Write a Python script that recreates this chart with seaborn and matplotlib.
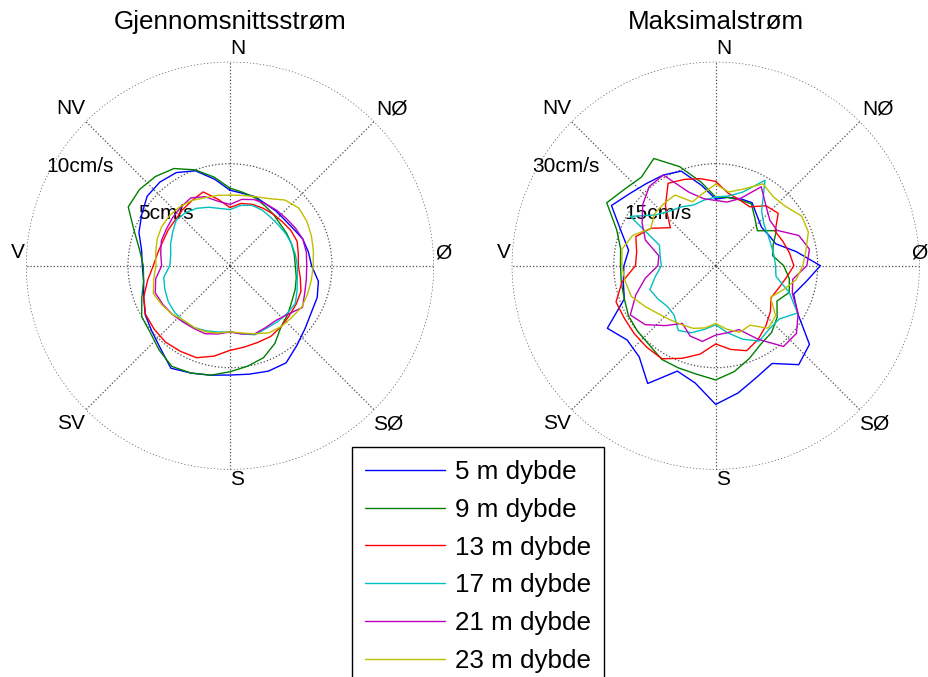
import numpy as np
import pandas as pd
import matplotlib
matplotlib.use("Agg")
import matplotlib.pyplot as plt
from matplotlib.lines import Line2D
import seaborn as sns

sns.set_style("white")
plt.rcParams['font.family'] = ['Liberation Sans', 'DejaVu Sans']
plt.rcParams['text.color'] = 'black'

# ---------------- data ----------------
directions_deg = list(range(0, 360, 10))
depth_labels = ["5 m dybde", "9 m dybde", "13 m dybde", "17 m dybde", "21 m dybde", "23 m dybde"]
compass_labels = ["N", "NØ", "Ø", "SØ", "S", "SV", "V", "NV"]

# Mean current (cm/s)
mean_5m = [3.7, 3.6, 3.6, 3.5, 3.5, 3.5, 3.6, 3.8, 3.9, 4.0, 4.4, 4.55, 4.6, 4.8, 5.1, 5.5, 5.5, 5.4,
           5.36, 5.45, 5.6, 5.8, 5.3, 5.0, 4.8, 4.5, 4.3, 4.3, 4.4, 4.75, 5.0, 5.3, 5.35, 5.27, 4.95, 4.3]
mean_9m = [3.8, 3.65, 3.55, 3.4, 3.3, 3.2, 3.2, 3.2, 3.2, 3.2, 3.3, 3.4, 3.5, 3.7, 3.9, 4.4, 4.8, 5.0,
           5.2, 5.45, 5.6, 5.7, 5.4, 5.1, 5.0, 4.6, 4.3, 4.25, 4.5, 5.0, 5.76, 5.8, 5.7, 5.5, 5.0, 4.4]
mean_13m = [2.85, 3.1, 3.2, 3.25, 3.3, 3.35, 3.45, 3.5, 3.4, 3.35, 3.5, 3.7, 3.75, 3.8, 3.9, 4.0, 4.0, 4.05,
            4.15, 4.5, 4.8, 4.85, 4.9, 4.85, 4.78, 4.5, 4.1, 3.76, 3.6, 3.5, 3.5, 3.5, 3.6, 3.7, 3.85, 3.3]
mean_17m = [2.75, 3.0, 3.15, 3.15, 3.1, 3.1, 3.15, 3.2, 3.25, 3.3, 3.35, 3.5, 3.7, 3.65, 3.6, 3.55, 3.6, 3.4,
            3.24, 3.3, 3.4, 3.5, 3.55, 3.55, 3.5, 3.4, 3.3, 2.95, 2.95, 3.1, 3.25, 3.45, 3.4, 3.25, 3.05, 2.85]
mean_21m = [3.0, 3.3, 3.45, 3.5, 3.55, 3.6, 3.7, 3.8, 3.8, 3.76, 3.8, 3.9, 4.1, 3.7, 3.5, 3.5, 3.55, 3.4,
            3.25, 3.4, 3.55, 3.55, 3.6, 3.7, 3.8, 3.9, 3.7, 3.35, 3.45, 3.58, 3.6, 3.67, 3.75, 3.84, 3.6, 3.2]
mean_23m = [3.46, 3.5, 3.6, 3.8, 4.2, 4.4, 4.35, 4.25, 4.15, 4.08, 4.05, 4.05, 4.06, 3.95, 3.9, 3.8, 3.55, 3.35,
            3.24, 3.35, 3.45, 3.5, 3.5, 3.7, 3.85, 4.0, 3.8, 3.63, 3.7, 3.8, 3.86, 3.85, 3.79, 3.7, 3.55, 3.5]

# Maximum current (cm/s)
max_5m = [9.8, 10.2, 10.5, 10.7, 9.5, 8.8, 9.0, 9.4, 12.0, 15.4, 13.5, 12.2, 13.9, 18.0, 19.0, 16.6, 17.5, 19.0,
          20.4, 17.5, 16.5, 20.0, 17.5, 17.0, 18.4, 14.3, 13.8, 13.5, 13.0, 14.8, 17.7, 16.5, 15.8, 15.4, 14.8, 12.0]
max_9m = [10.1, 10.2, 10.3, 10.5, 9.0, 8.0, 10.3, 9.0, 8.5, 10.0, 11.0, 11.5, 10.4, 11.8, 12.8, 13.3, 14.5, 15.8,
          16.8, 16.2, 16.0, 15.9, 15.2, 15.0, 14.8, 14.3, 14.1, 14.0, 14.2, 15.5, 18.5, 17.5, 17.0, 18.2, 15.5, 12.5]
max_13m = [12.4, 10.8, 10.3, 10.0, 11.5, 12.0, 10.1, 10.5, 11.0, 11.5, 10.5, 9.8, 9.4, 10.5, 11.5, 12.5, 13.3, 12.5,
           11.5, 13.2, 14.5, 15.8, 15.7, 15.6, 15.5, 15.6, 14.0, 11.8, 11.8, 12.5, 11.0, 8.7, 11.5, 14.0, 13.5, 13.0]
max_17m = [10.1, 10.4, 11.5, 14.5, 10.5, 9.3, 8.9, 8.7, 8.7, 8.8, 9.0, 11.5, 13.9, 12.2, 12.2, 12.8, 11.5, 10.0,
           8.7, 9.5, 10.5, 11.0, 9.5, 9.3, 9.8, 10.3, 9.0, 8.0, 8.3, 8.8, 14.5, 11.6, 10.5, 10.0, 9.5, 9.8]
max_21m = [9.6, 9.5, 10.5, 13.4, 11.5, 10.4, 10.4, 13.0, 14.0, 13.4, 11.5, 12.0, 14.0, 15.5, 15.5, 12.5, 10.0, 10.0,
           10.2, 11.3, 11.0, 9.8, 11.5, 13.5, 14.5, 12.5, 10.5, 8.5, 8.5, 11.0, 12.5, 14.0, 15.2, 15.4, 11.5, 10.0]
max_23m = [12.0, 11.0, 12.0, 13.9, 13.2, 13.5, 14.6, 14.5, 13.5, 12.8, 12.0, 10.5, 9.3, 11.5, 12.0, 10.1, 10.4, 9.5,
           8.5, 9.3, 9.8, 10.0, 10.4, 11.0, 12.0, 13.2, 13.5, 13.8, 14.0, 13.0, 11.0, 11.8, 11.9, 12.0, 10.0, 10.8]

mean_series = [mean_5m, mean_9m, mean_13m, mean_17m, mean_21m, mean_23m]
max_series = [max_5m, max_9m, max_13m, max_17m, max_21m, max_23m]

colors = ["#0000ff", "#008000", "#ff0000", "#00bfbf", "#bf00bf", "#bfbf00"]
palette = dict(zip(depth_labels, colors))


def make_frame(series_list):
    rows = []
    for lab, vals in zip(depth_labels, series_list):
        th = list(np.deg2rad(directions_deg)) + [np.deg2rad(360.0)]
        rv = list(vals) + [vals[0]]
        for i, (t, r) in enumerate(zip(th, rv)):
            rows.append({"theta": t, "r": r, "depth": lab, "order": i})
    return pd.DataFrame(rows)


# ---------------- figure ----------------
W, H = 929, 677
fig = plt.figure(figsize=(W / 100, H / 100), dpi=100)
R = 204.0
cy = 265.7


def setup(cx, rmax, title, east_dx):
    ax = fig.add_axes([(cx - R) / W, (H - cy - R) / H, 2 * R / W, 2 * R / H], projection='polar')
    ax.set_theta_zero_location('N')
    ax.set_theta_direction(-1)
    ax.set_ylim(0, rmax)
    ax.set_yticks([rmax / 2, rmax])
    ax.set_yticklabels([])
    ax.set_xticks(np.deg2rad(np.arange(0, 360, 45)))
    ax.set_xticklabels([])
    ax.grid(True, linestyle=':', color='0.3', linewidth=0.9)
    ax.spines['polar'].set_visible(False)
    ax.tick_params(length=0)
    offsets = [(8, 217), (162, 157), (east_dx, 13), (158, -158), (7, -214), (-159, -158), (-212, 13), (-159, 157)]
    for name, (dx, up) in zip(compass_labels, offsets):
        ax.text(0.5 + dx / (2 * R), 0.5 + up / (2 * R), name, transform=ax.transAxes,
                ha='center', va='center', fontsize=15, color='black', clip_on=False)
    for ring in (rmax / 2, rmax):
        ax.text(np.deg2rad(297), ring * 1.01, f"{ring:g}cm/s", ha='left', va='baseline',
                fontsize=15, color='black', clip_on=False, zorder=1)
    fig.text(cx / W, 1 - 22 / H, title, ha='center', va='center', fontsize=18.7, color='black')
    return ax


ax1 = setup(230.0, 10, "Gjennomsnittsstrøm", 213)
ax2 = setup(715.7, 30, "Maksimalstrøm", 204)

df_mean = make_frame(mean_series)
df_max = make_frame(max_series)

for ax, df, rmax in ((ax1, df_mean, 10), (ax2, df_max, 30)):
    sns.lineplot(data=df, x="theta", y="r", hue="depth", hue_order=depth_labels, palette=palette,
                 estimator=None, sort=False, units="depth", legend=False, linewidth=1.0, ax=ax, zorder=3)
    ax.set_xlabel("")
    ax.set_ylabel("")
    ax.set_ylim(0, rmax)

handles = [Line2D([0], [0], color=c, lw=1.0) for c in colors]
leg = fig.legend(handles, depth_labels, loc='upper left', bbox_to_anchor=(352 / W, 1 - 447 / H),
                 frameon=True, fancybox=False, edgecolor='black', framealpha=1, fontsize=18.7,
                 handlelength=3.1, handletextpad=0.35, borderpad=0.5, labelspacing=0.53,
                 borderaxespad=0)
leg.get_frame().set_linewidth(1.0)
for t in leg.get_texts():
    t.set_color('black')

fig.savefig("out.png", dpi=100, facecolor='white')
